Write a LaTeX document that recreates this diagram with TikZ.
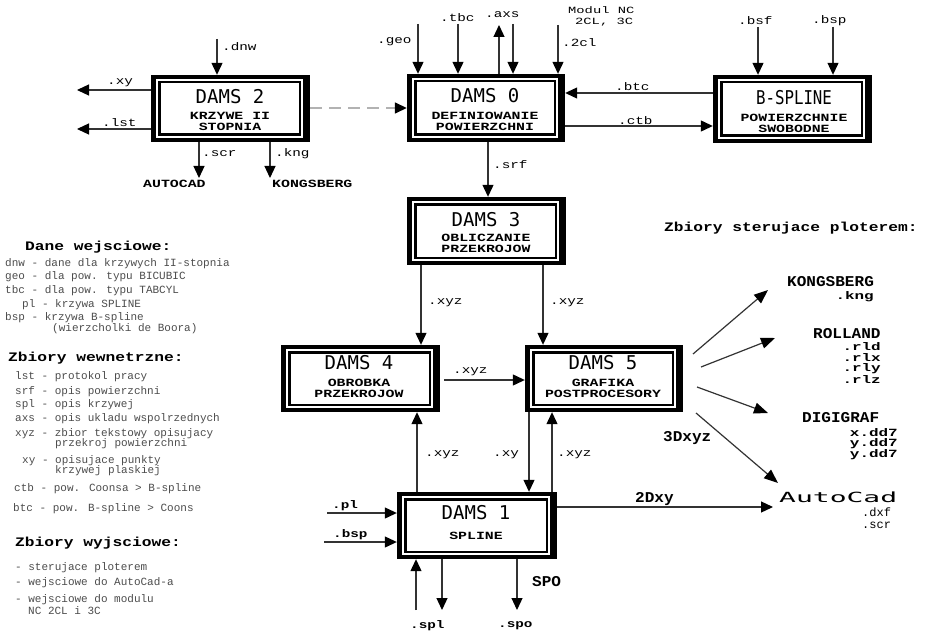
\documentclass[tikz,border=0pt]{standalone}
\usepackage{fontspec}
\usetikzlibrary{arrows.meta,calc}
\setmainfont{Liberation Mono}
\newfontfamily\lblf[FakeStretch=1.3]{Liberation Mono}
\newfontfamily\mncf[FakeStretch=1.45]{Liberation Mono}
\newfontfamily\ttlf{DejaVu Sans Mono}
\newfontfamily\bsplf[FakeStretch=0.83]{DejaVu Sans Mono}
\newfontfamily\subf[FakeStretch=1.35]{Liberation Mono}
\newfontfamily\legf{Liberation Mono}
\newfontfamily\headf[FakeStretch=1.25]{Liberation Mono}
\newfontfamily\outf[FakeStretch=1.07]{Liberation Mono}
\newfontfamily\outsf[FakeStretch=1.45]{Liberation Mono}
\newfontfamily\acadf[FakeStretch=2.0]{DejaVu Sans Mono}
\newcommand\dbox[5]{%
  \fill[black] (#2,#3) rectangle (#4,#5);
  \fill[white] ({#2+5},{#3+4}) rectangle ({#4-7},{#5-4});
  \draw[line width=2.5pt] ({#2+8.25},{#3+7.25}) rectangle ({#4-10.25},{#5-7.25});
  \path ({(#2+#4)/2},{(#3+#5)/2}) node[minimum width={#4-#2}, minimum height={#5-#3}, inner sep=0pt, draw=none] (#1) {};
}
\begin{document}
\begin{tikzpicture}[x=1pt,y=-1pt,
  arr/.style={draw=black!80, line width=1.2pt, -{Triangle[length=12pt,width=11pt,color=black]}},
  darr/.style={draw=black!30, line width=1.5pt, dash pattern=on 12pt off 7pt, -{Triangle[length=12pt,width=11pt,color=black]}},
  lbl/.style={font=\lblf\fontsize{11}{12}\selectfont, inner sep=0pt, anchor=west},
  mnc/.style={font=\mncf\fontsize{9.5}{10}\selectfont, inner sep=0pt, anchor=west},
  lblb/.style={font=\lblf\bfseries\fontsize{11}{12}\selectfont, inner sep=0pt, anchor=west},
  ttl/.style={font=\ttlf\fontsize{19}{20}\selectfont, inner sep=0pt},
  bsttl/.style={font=\bsplf\fontsize{19}{20}\selectfont, inner sep=0pt},
  subt/.style={font=\subf\bfseries\fontsize{11}{11}\selectfont, inner sep=0pt, align=center},
  leg/.style={font=\legf\fontsize{11}{12}\selectfont, text=black!70, inner sep=0pt, anchor=west},
  hd/.style={font=\headf\bfseries\fontsize{13}{14}\selectfont, inner sep=0pt, anchor=west},
  outb/.style={font=\outf\bfseries\fontsize{15}{16}\selectfont, inner sep=0pt},
  outs/.style={font=\outsf\bfseries\fontsize{11}{11}\selectfont, inner sep=0pt, anchor=east},
  acad/.style={font=\acadf\fontsize{14}{15}\selectfont, inner sep=0pt, anchor=west},
]
\useasboundingbox (0,0) rectangle (925,631);
\fill[white] (0,0) rectangle (925,631);

% ---------- boxes ----------
\dbox{d2}{151}{75}{310}{142}
\dbox{d0}{407}{74}{565}{142}
\dbox{bs}{713}{75}{872}{143}
\dbox{d3}{407}{197}{566}{265}
\dbox{d4}{281}{345}{440}{412}
\dbox{d5}{525}{345}{683}{412}
\dbox{d1}{397}{492}{557}{559}

\node[ttl] (t2) at (230,97) {DAMS 2};
\node[subt] (s2) at (230,121.5) {KRZYWE II\\STOPNIA};
\node[ttl] (t0) at (485,96) {DAMS 0};
\node[subt] (s0) at (485,121) {DEFINIOWANIE\\POWIERZCHNI};
\node[bsttl] (tb) at (794,98) {B-SPLINE};
\node[subt] (sb) at (794,123) {POWIERZCHNIE\\SWOBODNE};
\node[ttl] (t3) at (486,220) {DAMS 3};
\node[subt] (s3) at (486,243) {OBLICZANIE\\PRZEKROJOW};
\node[ttl] (t4) at (359,363) {DAMS 4};
\node[subt] (s4) at (359,388) {OBROBKA\\PRZEKROJOW};
\node[ttl] (t5) at (603,363) {DAMS 5};
\node[subt] (s5) at (603,388) {GRAFIKA\\POSTPROCESORY};
\node[ttl] (t1) at (476,513) {DAMS 1};
\node[subt] (s1) at (476,536) {SPLINE};

% ---------- DAMS 2 connectors ----------
\coordinate (dnwS) at (217,39);
\draw[arr] (dnwS) -- (dnwS |- d2.north);
\node[lbl] (ldnw) at (222,47) {.dnw};
\coordinate (xyE) at (77,90);
\draw[arr] (d2.west |- xyE) -- (xyE);
\node[lbl] (lxy) at (107,83) {.xy};
\coordinate (lstE) at (77,129);
\draw[arr] (d2.west |- lstE) -- (lstE);
\node[lbl] (llst) at (102,123) {.lst};
\coordinate (scrE) at (199,178);
\draw[arr] (d2.south -| scrE) -- (scrE);
\node[lbl] (lscr) at (202,154) {.scr};
\coordinate (kngE) at (270,178);
\draw[arr] (d2.south -| kngE) -- (kngE);
\node[lbl] (lkng) at (275,154) {.kng};
\node[subt, anchor=west] (acad2) at (143,184) {AUTOCAD};
\node[subt, anchor=west] (kong2) at (272,184) {KONGSBERG};
\coordinate (dsh) at (0,108);
\draw[darr] (d2.east |- dsh) -- (d0.west |- dsh);

% ---------- DAMS 0 connectors ----------
\coordinate (geoS) at (418,24);
\draw[arr] (geoS) -- (geoS |- d0.north);
\node[lbl] (lgeo) at (377,42) {.geo};
\coordinate (tbcS) at (458,24);
\draw[arr] (tbcS) -- (tbcS |- d0.north);
\node[lbl] (ltbc) at (440,18) {.tbc};
\coordinate (axsE) at (499,25);
\draw[arr] (d0.north -| axsE) -- (axsE);
\coordinate (axsS) at (513,24);
\draw[arr] (axsS) -- (axsS |- d0.north);
\node[lbl] (laxs) at (485,15) {.axs};
\coordinate (nclS) at (558,25);
\draw[arr] (nclS) -- (nclS |- d0.north);
\node[lbl] (lncl) at (562,43) {.2cl};
\node[mnc] (mnc1) at (568,10.5) {Modul NC};
\node[mnc] (mnc2) at (575,22.5) {2CL, 3C};
\coordinate (btcY) at (0,93);
\draw[arr] (bs.west |- btcY) -- (d0.east |- btcY);
\node[lbl] (lbtc) at (615,87) {.btc};
\coordinate (ctbY) at (0,126);
\draw[arr] (d0.east |- ctbY) -- (bs.west |- ctbY);
\node[lbl] (lctb) at (618,121) {.ctb};
\coordinate (srfX) at (488,0);
\draw[arr] (d0.south -| srfX) -- (d3.north -| srfX);
\node[lbl] (lsrf) at (493,165) {.srf};

% ---------- B-SPLINE connectors ----------
\coordinate (bsfS) at (758,27);
\draw[arr] (bsfS) -- (bsfS |- bs.north);
\node[lbl] (lbsf) at (738,21) {.bsf};
\coordinate (bspS) at (833,27);
\draw[arr] (bspS) -- (bspS |- bs.north);
\node[lbl] (lbsp) at (812,21) {.bsp};

% ---------- DAMS 3 / 4 / 5 ----------
\coordinate (x34) at (421,0);
\draw[arr] (d3.south -| x34) -- (d4.north -| x34);
\node[lbl] (l34) at (428,303) {.xyz};
\coordinate (x35) at (543,0);
\draw[arr] (d3.south -| x35) -- (d5.north -| x35);
\node[lbl] (l35) at (550,303) {.xyz};
\coordinate (y45) at (0,380);
\draw[arr] (d4.east |- y45) ++(4,0) -- (d5.west |- y45);
\node[lbl] (l45) at (453,372) {.xyz};

% ---------- DAMS 1 ----------
\coordinate (x14) at (417,0);
\draw[arr] (d1.north -| x14) -- (d4.south -| x14);
\node[lbl] (l14) at (425,455) {.xyz};
\coordinate (x51) at (529,0);
\draw[arr] (d5.south -| x51) -- (d1.north -| x51);
\node[lbl] (l51) at (493,455) {.xy};
\coordinate (x15) at (552,0);
\draw[arr] (d1.north -| x15) -- (d5.south -| x15);
\node[lbl] (l15) at (557,455) {.xyz};
\coordinate (plS) at (327,513);
\draw[arr] (plS) -- (plS -| d1.west);
\node[lblb] (lpl) at (332,506) {.pl};
\coordinate (bsp1S) at (324,542);
\draw[arr] (bsp1S) -- (bsp1S -| d1.west);
\node[lblb] (lbsp1) at (333,535) {.bsp};
\coordinate (inS) at (416,610);
\draw[arr] (inS) -- (inS |- d1.south);
\coordinate (splE) at (442,610);
\draw[arr] (d1.south -| splE) -- (splE);
\node[lblb] (lspl) at (410,626) {.spl};
\coordinate (spoE) at (517,610);
\draw[arr] (d1.south -| spoE) -- (spoE);
\node[lblb] (lspo) at (498,626) {.spo};
\node[outb, anchor=west] (lSPO) at (532,582) {SPO};
\coordinate (acE) at (773,507);
\draw[arr] (d1.east |- acE) -- (acE);
\node[outb, anchor=west] (l2d) at (635,499) {2Dxy};

% ---------- plotter outputs ----------
\node[hd] (zst) at (664,228) {Zbiory sterujace ploterem:};
\coordinate (k1s) at (693,354); \coordinate (k1e) at (768,290);
\draw[arr, -{Triangle[length=14pt,width=11pt,color=black]}] (k1s) -- (k1e);
\coordinate (k2s) at (701,367); \coordinate (k2e) at (775,338);
\draw[arr, -{Triangle[length=14pt,width=11pt,color=black]}] (k2s) -- (k2e);
\coordinate (k3s) at (697,387); \coordinate (k3e) at (768,413);
\draw[arr, -{Triangle[length=14pt,width=11pt,color=black]}] (k3s) -- (k3e);
\coordinate (k4s) at (696,413); \coordinate (k4e) at (778,483);
\draw[arr, -{Triangle[length=14pt,width=11pt,color=black]}] (k4s) -- (k4e);
\node[outb, anchor=west] (l3d) at (663,438) {3Dxyz};

\node[outb, anchor=west] (okng) at (787,282) {KONGSBERG};
\node[outs] (okng2) at (874,297) {.kng};
\node[outb, anchor=west] (orol) at (813,334) {ROLLAND};
\node[outs] (orl1) at (881,347) {.rld};
\node[outs] (orl2) at (881,358) {.rlx};
\node[outs] (orl3) at (881,369) {.rly};
\node[outs] (orl4) at (881,380) {.rlz};
\node[outb, anchor=west] (odig) at (802,418) {DIGIGRAF};
\node[outs] (odd1) at (898,433) {x.dd7};
\node[outs] (odd2) at (898,444) {y.dd7};
\node[outs] (odd3) at (898,455) {y.dd7};
\node[acad] (oac) at (779,497) {AutoCad};
\node[lbl, font=\legf\fontsize{12}{13}\selectfont] (odxf) at (862,512) {.dxf};
\node[lbl, font=\legf\fontsize{12}{13}\selectfont] (oscr) at (862,525) {.scr};

% ---------- legend ----------
\node[hd] (h1) at (25,247) {Dane wejsciowe:};
\node[leg] (g1) at (5,264) {dnw - dane dla krzywych II-stopnia};
\node[leg] (g2) at (5,277) {geo - dla pow. typu BICUBIC};
\node[leg] (g3) at (5,291) {tbc - dla pow. typu TABCYL};
\node[leg] (g4) at (22,305) {pl - krzywa SPLINE};
\node[leg] (g5) at (5,318) {bsp - krzywa B-spline};
\node[leg] (g6) at (52,329) {(wierzcholki de Boora)};
\node[hd] (h2) at (8,358) {Zbiory wewnetrzne:};
\node[leg] (w1) at (15,377) {lst - protokol pracy};
\node[leg] (w2) at (15,392) {srf - opis powierzchni};
\node[leg] (w3) at (15,405) {spl - opis krzywej};
\node[leg] (w4) at (15,419) {axs - opis ukladu wspolrzednych};
\node[leg] (w5) at (15,434) {xyz - zbior tekstowy opisujacy};
\node[leg] (w6) at (55,444) {przekroj powierzchni};
\node[leg] (w7) at (22,461) {xy - opisujace punkty};
\node[leg] (w8) at (55,471) {krzywej plaskiej};
\node[leg] (w9) at (14,489) {ctb - pow. Coonsa > B-spline};
\node[leg] (w10) at (13,509) {btc - pow. B-spline > Coons};
\node[hd] (h3) at (15,543) {Zbiory wyjsciowe:};
\node[leg] (y1) at (15,568) {- sterujace ploterem};
\node[leg] (y2) at (15,583) {- wejsciowe do AutoCad-a};
\node[leg] (y3) at (15,600) {- wejsciowe do modulu};
\node[leg] (y4) at (28,611) {NC 2CL i 3C};
\end{tikzpicture}
\end{document}
